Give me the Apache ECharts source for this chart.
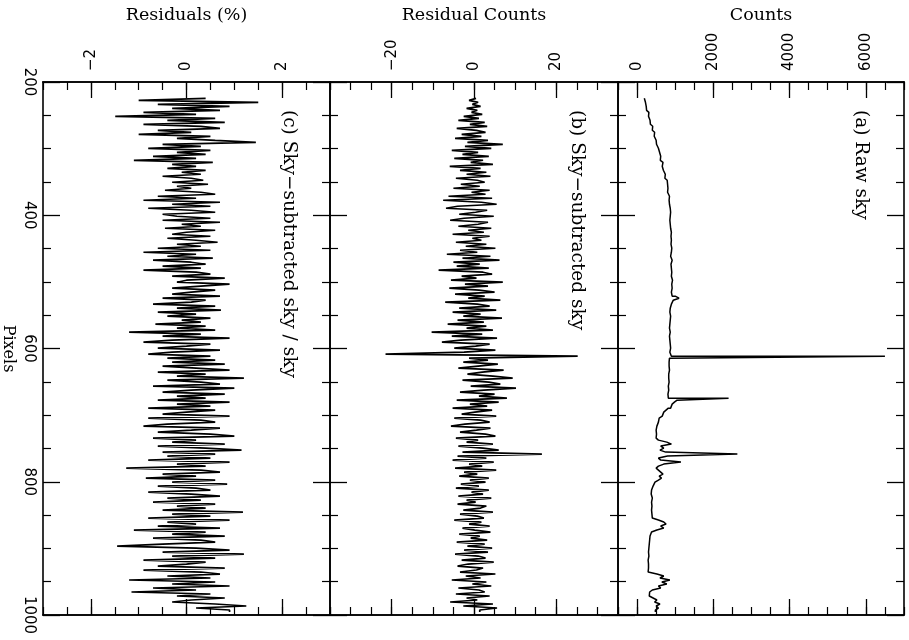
<!DOCTYPE html>
<html>
<head>
<meta charset="utf-8">
<script src="https://cdn.jsdelivr.net/npm/echarts@6/dist/echarts.min.js"></script>
<style>
  html, body { margin: 0; padding: 0; background: #fff; }
  #chart { width: 909px; height: 640px; }
</style>
</head>
<body>
<div id="chart"></div>
<script>
// Extracted sky spectrum, sampled every PIXEL_STEP detector pixels from PIXEL_START.
const PIXEL_START = 226;
const PIXEL_STEP = 3;

// Pixel axis tick labels
const pixelTicks = [200, 400, 600, 800, 1000];

// (a) Raw sky, counts
const rawCounts = [
  190, 220, 200, 240, 260, 250, 290, 310, 300,
  320, 340, 360, 350, 390, 410, 400, 430, 460, 450, 480, 500, 520, 510, 540, 560, 580,
  590, 600, 620, 640, 610, 650, 680, 660, 700, 690, 720, 740, 760, 730, 770, 790,
  800, 780, 810, 820, 800, 830, 850, 820, 840, 860, 850, 830, 870, 860, 880, 850, 870,
  880, 860, 890, 870, 900, 880, 870, 900, 910, 890, 880, 900, 920, 890, 900, 910, 890,
  900, 910, 880, 900, 920, 900, 890, 910, 900, 920, 910, 890, 900, 910, 930, 900,
  910, 900, 920, 910, 900, 930, 920, 1000, 1100, 950, 900, 880, 870, 890, 860, 870, 880,
  860, 870, 850, 860, 870, 850, 860, 870, 860, 850, 870, 860, 850, 870, 860, 880, 870, 860, 880,
  900, 6500, 850,
  840, 850, 840, 830, 850, 840, 830, 840, 830, 820, 840, 830, 820, 810, 830, 820, 810, 800, 820,
  2400,
  1050, 980, 920, 880, 820, 760, 700,
  660, 620, 580, 560, 540, 520, 510, 500, 520, 510, 540, 500, 520, 560,
  780, 900, 620, 700, 600, 750, 2630, 800, 560, 620, 1150, 700, 560, 500,
  560, 620, 680, 580, 640, 560, 470, 420, 400, 380,
  390, 370, 380, 400, 390, 380, 370, 390, 400, 380,
  370, 390, 380, 400, 420, 560, 700, 760, 620, 700,
  520, 380, 340, 320, 330, 310, 320, 300, 310, 320,
  300, 290, 310, 300, 290, 280, 300, 290, 300, 310,
  290, 330, 520, 700, 600, 860, 650, 780, 560, 620,
  400, 330, 320, 350, 420, 520, 460, 600, 500, 560,
  480
];

// (b) Sky-subtracted sky, residual counts
const residualCounts = [
  0.5, -1.2, 1.0, -0.4, 1.6, -1.8, 0.8, -0.6, 2.0,
  -2.5, 1.2, -3.8, 2.6, -1.0, 3.2, -4.2, 0.6, 2.8, -3.0, 1.8, -4.6, 3.4, -1.6, 7.0, -2.2,
  4.2, -5.4, 1.0, -2.8, 3.6, -4.8, 2.2, -0.8, 4.6, -5.9, 1.6, -3.4, 3.0, -1.8, 4.0, -4.4, 0.8, 2.6, -3.2, 1.4, -5.0, 3.8, -0.6,
  2.8, -6.2, 4.4, -7.5, 1.8, 5.5, -4.0, -6.8, 3.2, 0.4, -3.6,
  4.8, -2.4, -5.8, 3.4, 1.0, -3.8, 4.2, -1.4, 2.4, -5.2, 3.8, -0.4, 1.8, -4.4, 3.0, -2.0,
  5.2, -3.4, 0.8, -6.6, 4.0, -2.8, 6.2, -5.0, 1.4, -4.2, 3.6, -8.6, 2.2,
  4.4, -3.0, 0.6, -5.6, 7.0, -2.2, 3.4, -6.0, 1.2, 5.0,
  -4.6, 2.6, -1.4, 6.4, -7.0, 0.8, 3.8, -3.6, 5.4, -5.2, 1.6, -2.6, 6.8, -4.0, 2.4, -6.4, 3.0,
  -1.8, 4.6, -10.3, 2.0, -5.4, 5.6, -3.2, -7.8, 3.8, 0.4, -4.8, 5.2, -2.4,
  -21.5, 25.2, -1.2,
  3.4, -2.6, 5.8, 1.0, -3.8, 7.2, 2.0, -1.6, 4.6, 9.4, -2.8, 3.6, 6.4, -0.8, 10.2, 2.4, -3.4, 5.0, 1.2,
  8.0,
  -4.2, 6.0, -1.0, 3.2, -5.2, 4.4, 0.2,
  -3.0, 5.4, -4.8, 1.6, 3.8, -2.2, -5.6, 4.0, 0.6, -3.4, 2.8, 5.2, -4.4, 1.0, -1.8, 4.6, -3.8, 2.2, 6.0, -2.8,
  16.5, -4.0,
  3.0, -5.2, 4.8, -1.2, 2.0, -4.6, 5.4, -2.4, 0.8, -3.6, 3.6, -1.0,
  2.8, -3.2, 1.2, -4.4, 3.6, -0.6, 2.2, -3.8, 4.2, -1.8, 0.4, -4.0, 3.0, 1.6, -2.6, 4.6, -3.4,
  0.8, 2.4, -4.8, 1.8, -1.2, 3.8, -2.8, 0.2, 4.0, -3.6, 1.4, -0.8, 3.2, -4.2, 2.6, -1.6, 4.4,
  -2.4, 3.4, -4.6, 1.0, 2.8, -3.0, 4.8, -1.4, -4.0, 2.2, 0.6, -3.4, 5.2, -2.0, 1.6, -5.4,
  3.0, -0.4, 4.2, -3.8, 1.2, 2.6, -4.4, 3.8, -1.8, 0.8, -5.8, 4.6, -2.6, 5.6, 1.4
];

// (c) Sky-subtracted sky / sky, residual percent
const residualPercent = [
  0.4, -1.0, 1.5, -0.6, 0.9, -0.3, 0.7, -0.9, 0.2,
  -1.49,
  0.6, -0.4, 0.8, -0.9, 0.3, 0.7, -0.6, 0.1, -1.0, 0.5,
  -0.2, 0.6,
  1.45,
  -0.5, 0.3, -0.8, 0.5, -0.2, 0.4, -0.7, 0.2, -1.1, 0.55, -0.3,
  0.2, -0.4, 0.4, -0.1, 0.3, -0.5, 0.1, 0.35, -0.3, 0.45, -0.2, 0.1, -0.45, 0.3,
  0.6, -0.6, 0.2, -0.9, 0.7, -0.3, 0.5, -0.8, 0.1, 0.6, -0.5,
  -0.2, 0.5, -0.5, 0.7, -0.1, 0.3, -0.45, 0.6, 0.0, -0.3, 0.5, -0.4, 0.2, 0.65, -0.2,
  0.3, -0.6, 0.5, -0.9, 0.2, -0.4, 0.55, -0.7, 0.1, 0.4, -0.5, 0.3, -0.9, 0.2,
  0.5, -0.3, 0.8, 0.0, -0.2, 0.9, 0.3, -0.3, 0.6, 0.1,
  -0.3, 0.7, -0.5, 0.4, 0.1, -0.7, 0.6, -0.2, 0.72, -0.6, 0.2, -0.4, 0.5, -0.1, 0.3, -0.65, 0.4,
  -0.2, 0.6, -1.2, 0.3, -0.5, 0.9, -0.3, -0.9, 0.5, 0.0, -0.6, 0.7, -0.3,
  -0.8, 0.5, -0.4,
  0.6, -0.3, 0.8, -0.5, 0.2, 0.9, -0.6, 0.4, -0.2, 1.2, -0.4, 0.3, 0.7, -0.7, 1.0, 0.1, -0.5, 0.8, -0.2,
  0.4, -0.6, 0.9, -0.2, 0.5, -0.8, 0.6, 0.0,
  -0.5, 0.9, -0.8, 0.3, 0.6, -0.4, -0.9, 0.7, 0.1, -0.6, 0.5, 1.0, -0.7, 0.2, -0.3, 0.8, -0.6, 0.4, 1.15, -0.5,
  0.6, -0.4, 0.5, -0.8, 0.9, -0.2, 0.4, -1.26, 0.3, 0.7, -0.5, 0.2, -0.85, 0.6,
  -0.3, 0.85, -0.6, 0.2, 0.5, -0.8, 0.1, 0.7, -0.4, 0.3, -0.7, 0.6, -0.2, 0.4, -0.5, 1.18, -0.3,
  0.5, -0.8, 0.9, -0.4, 0.2, -0.6, 0.7, -1.1, 0.4, -0.3, 0.8, -0.7, 0.3, 0.6, -0.5, -1.45, 0.2,
  0.9, -0.5, 1.2, -0.3, 0.6, -0.9, 0.4, 0.0, -0.6, 0.8, -0.9, 0.3, 0.7, -0.4, 0.5, -1.2,
  0.6, -0.3, 0.9, -0.7, 0.2, -1.15, 0.5, -0.2, 0.8, 0.1, -0.3, 0.6, 1.25, 0.2, 0.9
];

// Value-axis ranges and tick labels, left to right: (c), (b), (a)
const axisTitles = ['Residuals (%)', 'Residual Counts', 'Counts'];
const panelLabels = ['(c) Sky\u2212subtracted sky / sky', '(b) Sky\u2212subtracted sky', '(a) Raw sky'];
const axisMin = [-3, -35, -500];
const axisMax = [3, 35, 7000];
const minorStep = [0.5, 5, 500];
const majorTicks = [[-2, 0, 2], [-20, 0, 20], [0, 2000, 4000, 6000]];
const panelValues = [residualPercent, residualCounts, rawCounts];

// Layout (screen px)
const GRID_TOP = 82, GRID_HEIGHT = 533;
const gridLeft = [43, 330, 618];
const gridWidth = [287, 288, 286];
const labelX = [289, 577, 861];
const traceWidth = [1.7, 1.7, 1.5];

const INK = '#000';
const SERIF = '"DejaVu Serif", serif';
const SANS = '"DejaVu Sans", sans-serif';

const plainNumber = v => String(v).replace('-', '\u2212');

// Turn a sampled spectrum into a histogram-style trace along the pixel axis
function histogramPoints(values) {
  const pts = [];
  const half = PIXEL_STEP / 2;
  values.forEach((v, i) => {
    const p = PIXEL_START + i * PIXEL_STEP;
    pts.push([v, p - half], [v, p + half]);
  });
  return pts;
}

const grids = [], xAxes = [], yAxes = [], series = [], graphics = [];

for (let g = 0; g < 3; g++) {
  grids.push({ left: gridLeft[g], top: GRID_TOP, width: gridWidth[g], height: GRID_HEIGHT,
               outerBoundsMode: 'none', containLabel: false });

  const base = {
    gridIndex: g, type: 'value', min: axisMin[g], max: axisMax[g],
    axisLine: { show: true, onZero: false, lineStyle: { color: INK, width: 1.6 } },
    splitLine: { show: false }
  };
  const major = (pos, withLabels) => Object.assign({}, base, {
    position: pos,
    axisTick: { show: true, inside: true, length: 16, customValues: majorTicks[g],
                lineStyle: { color: INK, width: 1.3 } },
    axisLabel: withLabels ? {
      show: true, customValues: majorTicks[g], rotate: -90, margin: 11,
      color: INK, fontFamily: SANS, fontSize: 15, formatter: plainNumber
    } : { show: false },
    name: withLabels ? axisTitles[g] : '',
    nameLocation: 'middle', nameGap: 58,
    nameTextStyle: { color: INK, fontFamily: SERIF, fontSize: 17.5 }
  });
  const minor = pos => Object.assign({}, base, {
    position: pos, interval: minorStep[g],
    axisTick: { show: true, inside: true, length: 8, lineStyle: { color: INK, width: 1.2 } },
    axisLabel: { show: false }
  });
  xAxes.push(major('top', true), minor('top'), major('bottom', false), minor('bottom'));

  const pix = pos => ({
    gridIndex: g, type: 'value', min: 200, max: 1000, interval: 200, inverse: true,
    position: pos,
    axisLine: { show: true, onZero: false, lineStyle: { color: INK, width: 1.6 } },
    axisTick: { show: true, inside: true, length: 17, lineStyle: { color: INK, width: 1.3 } },
    minorTick: { show: true, splitNumber: 4, length: 8, lineStyle: { color: INK, width: 1.2 } },
    splitLine: { show: false }, minorSplitLine: { show: false },
    axisLabel: (g === 0 && pos === 'left') ? {
      show: true, customValues: pixelTicks, rotate: -90, margin: 7,
      color: INK, fontFamily: SANS, fontSize: 15, formatter: plainNumber
    } : { show: false },
    name: (g === 0 && pos === 'left') ? 'Pixels' : '',
    nameLocation: 'middle', nameRotate: -90, nameGap: 27,
    nameTextStyle: { color: INK, fontFamily: SERIF, fontSize: 16 }
  });
  yAxes.push(pix('left'), pix('right'));

  series.push({
    type: 'line', xAxisIndex: 4 * g, yAxisIndex: 2 * g,
    data: histogramPoints(panelValues[g]),
    showSymbol: false, symbol: 'none', silent: true,
    lineStyle: { color: INK, width: traceWidth[g] },
    animation: false
  });

  graphics.push({
    type: 'text', x: labelX[g], y: 110, rotation: -Math.PI / 2,
    style: { text: panelLabels[g], fill: INK, font: '18.5px ' + SERIF,
             align: 'left', verticalAlign: 'middle' }
  });
}

const chart = echarts.init(document.getElementById('chart'), null, { renderer: 'canvas' });
chart.setOption({
  backgroundColor: '#fff',
  animation: false,
  grid: grids,
  xAxis: xAxes,
  yAxis: yAxes,
  series: series,
  graphic: graphics
});
</script>
</body>
</html>
